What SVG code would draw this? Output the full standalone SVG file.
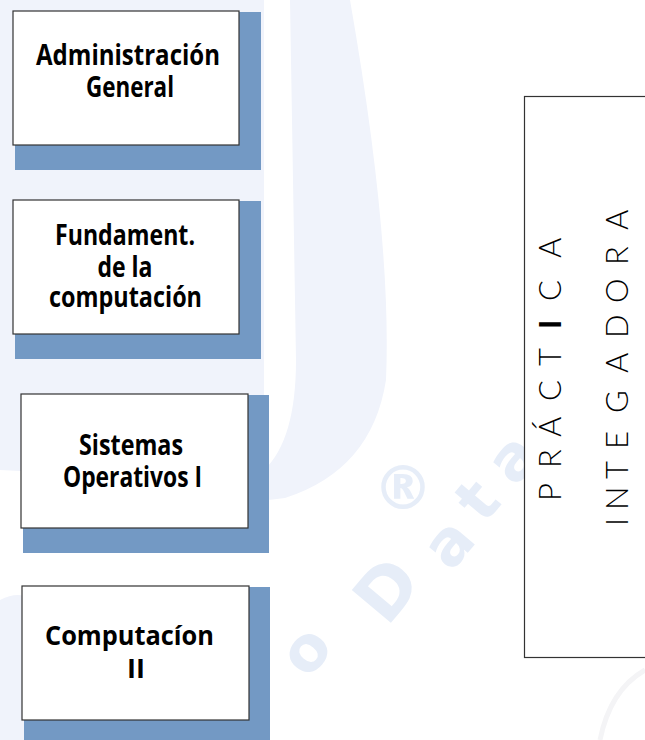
<svg xmlns="http://www.w3.org/2000/svg" width="645" height="740" viewBox="0 0 645 740">
  <style>
    .wm { fill: #f0f3fb; }
    .wmt { fill: #e6edf8; font-family: "DejaVu Sans", "Liberation Sans", sans-serif; font-weight: bold; }
    .shadow { fill: #7399c4; }
    .box { fill: #ffffff; stroke: #333333; stroke-width: 1.2; }
    .lbl { font-family: "Liberation Sans Narrow", "Open Sans", "Liberation Sans", sans-serif; font-weight: bold; font-size: 28px; fill: #000000; text-anchor: middle; }
    .lbl2 { font-family: "Open Sans", "Noto Sans", sans-serif; font-weight: bold; font-size: 27px; fill: #000000; text-anchor: middle; }
    .vt { font-family: "Lato", "Open Sans", "DejaVu Sans", sans-serif; font-weight: 300; font-size: 31px; fill: #000000; }
  </style>
  <rect width="645" height="740" fill="#ffffff"/>
  <g id="watermark">
    <path class="wm" d="M0,0 H264 V470 Q140,478 0,470 Z"/>
    <path class="wm" d="M290,0 H350 Q392,240 386,380 Q372,470 285,498 Q240,505 200,490 L264,470 Q296,440 296,360 Z"/>
    <path class="wm" d="M0,600 Q20,590 30,600 V740 H0 Z"/>
    <path d="M645,670 Q610,690 600,740" fill="none" stroke="#f4f4f6" stroke-width="5"/>
    <text class="wmt" font-size="62" transform="translate(305,650) rotate(-50)" text-anchor="middle" dominant-baseline="central">o</text>
    <text class="wmt" font-size="70" transform="translate(387,590) rotate(-50)" text-anchor="middle" dominant-baseline="central">D</text>
    <text class="wmt" font-size="62" transform="translate(448,543) rotate(-50)" text-anchor="middle" dominant-baseline="central">a</text>
    <text class="wmt" font-size="62" transform="translate(477,500) rotate(-50)" text-anchor="middle" dominant-baseline="central">t</text>
    <text class="wmt" font-size="62" transform="translate(512,458) rotate(-50)" text-anchor="middle" dominant-baseline="central">a</text>
    <text class="wmt" font-size="60" font-weight="normal" x="403" y="488" text-anchor="middle" dominant-baseline="central">®</text>
  </g>
  <g id="node-administracion">
    <rect class="shadow" x="15" y="12" width="246" height="158"/>
    <rect class="box" x="13" y="11" width="226" height="134"/>
    <text class="lbl" x="128" y="65" textLength="184" lengthAdjust="spacingAndGlyphs">Administración</text>
    <text class="lbl" x="130" y="97" textLength="88" lengthAdjust="spacingAndGlyphs">General</text>
  </g>
  <g id="node-fundamentos">
    <rect class="shadow" x="15" y="201" width="246" height="158"/>
    <rect class="box" x="13" y="200" width="226" height="134"/>
    <text class="lbl" x="125" y="245" textLength="140" lengthAdjust="spacingAndGlyphs">Fundament.</text>
    <text class="lbl" x="125" y="277" textLength="55" lengthAdjust="spacingAndGlyphs">de la</text>
    <text class="lbl" x="125.5" y="307" textLength="153" lengthAdjust="spacingAndGlyphs">computación</text>
  </g>
  <g id="node-sistemas">
    <rect class="shadow" x="23" y="395" width="246" height="158"/>
    <rect class="box" x="21" y="394" width="227" height="134"/>
    <text class="lbl" x="131" y="455" textLength="104" lengthAdjust="spacingAndGlyphs">Sistemas</text>
    <text class="lbl" x="132.5" y="487" textLength="139" lengthAdjust="spacingAndGlyphs">Operativos I</text>
  </g>
  <g id="node-computacion">
    <rect class="shadow" x="24" y="587" width="246" height="160"/>
    <rect class="box" x="22" y="586" width="227" height="134"/>
    <text class="lbl2" x="129.5" y="645" textLength="169" lengthAdjust="spacingAndGlyphs">Computacíon</text>
    <text class="lbl2" x="136" y="678">II</text>
  </g>
  <g id="node-practica">
    <rect class="box" x="524.5" y="96.5" width="140" height="561"/>
    <text class="vt" transform="translate(561,501) rotate(-90)" x="0 33 64 100 135 172 200 243" y="0">PRÁCT<tspan font-weight="bold">I</tspan>CA</text>
    <text class="vt" transform="translate(628,526) rotate(-90)" x="0 16 47 77 113 153 188 223 261 296" y="0">INTEGADORA</text>
  </g>
  <g id="connectors"/>
</svg>
